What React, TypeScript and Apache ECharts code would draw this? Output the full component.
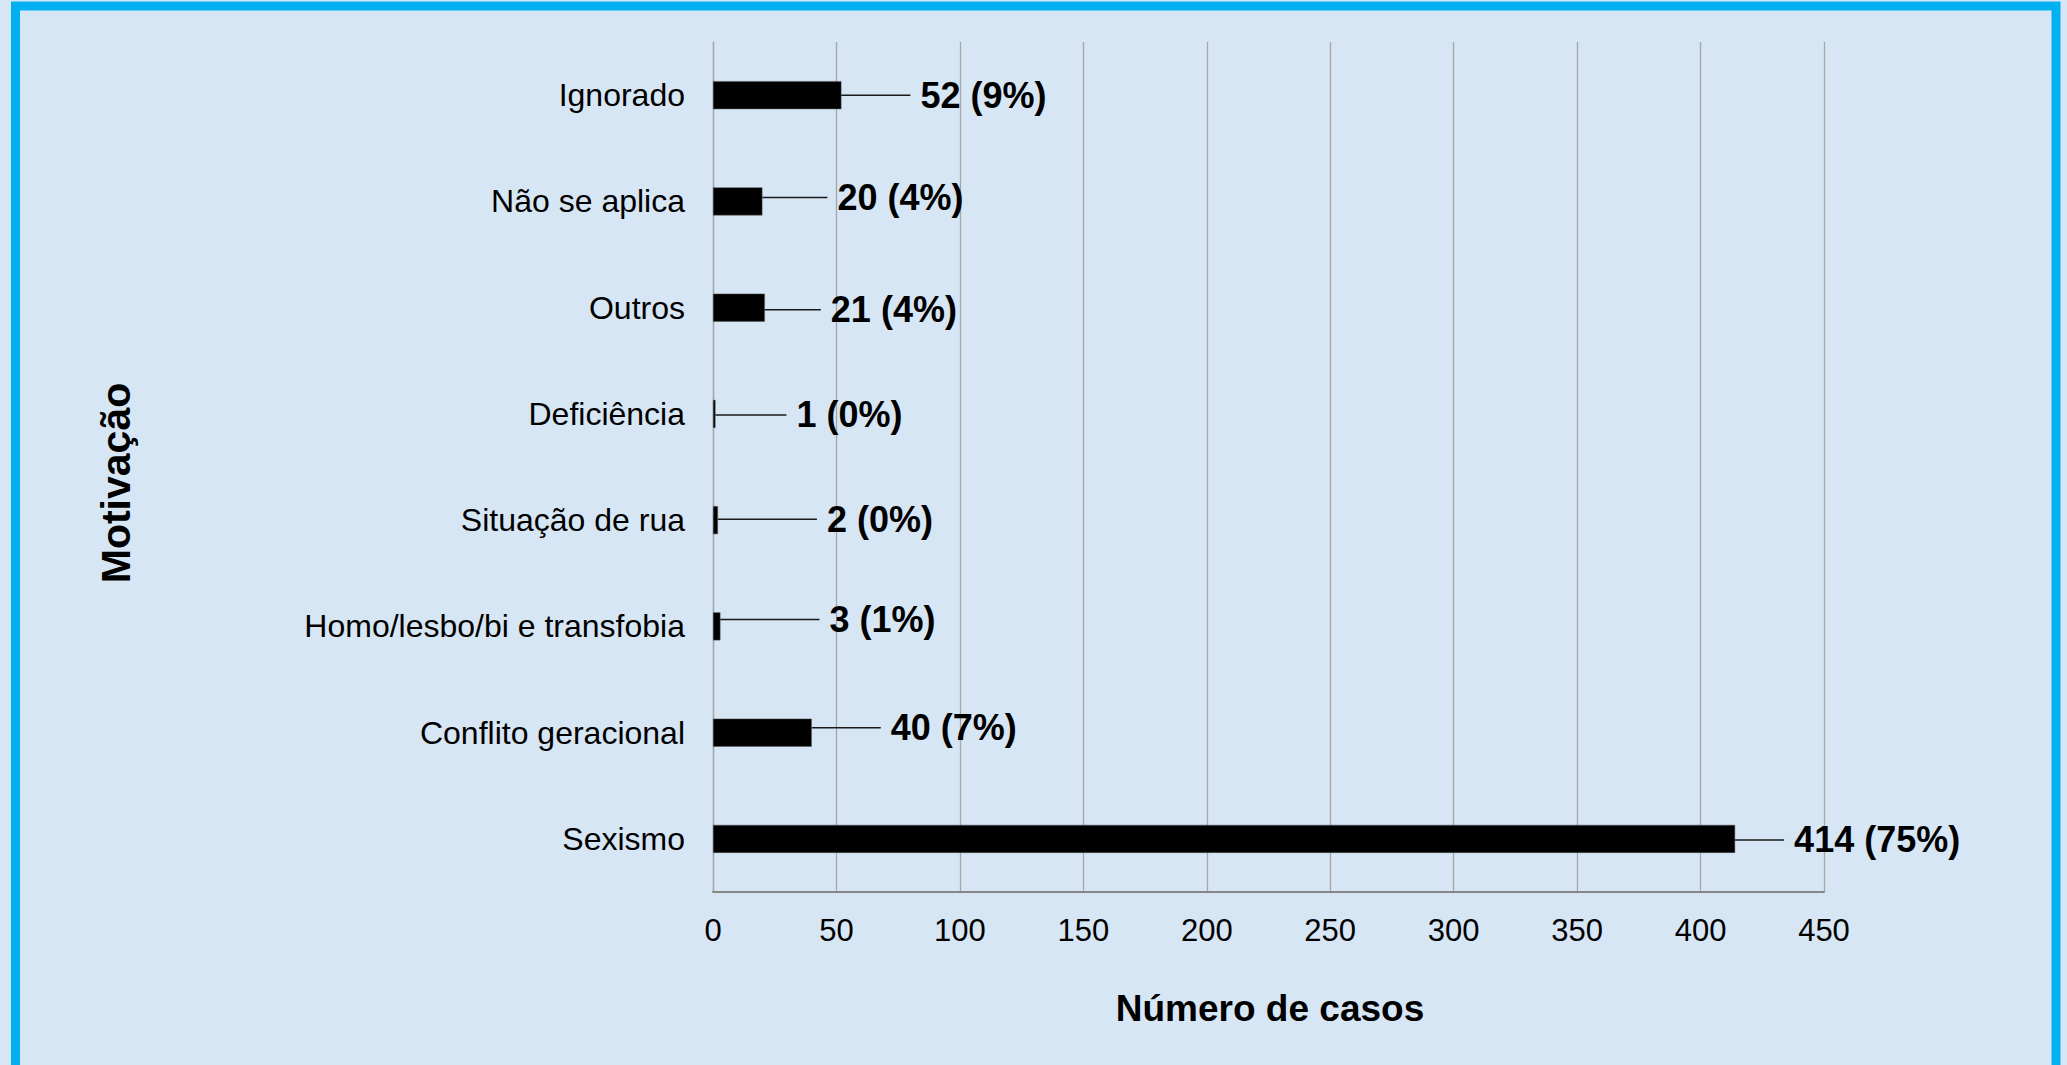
import React, { useEffect, useRef } from "react";
import * as echarts from "echarts";

const categories = [
  "Sexismo",
  "Conflito geracional",
  "Homo/lesbo/bi e transfobia",
  "Situação de rua",
  "Deficiência",
  "Outros",
  "Não se aplica",
  "Ignorado",
];
const cases = [414, 40, 3, 2, 1, 21, 20, 52];
const percents = [75, 7, 1, 0, 0, 4, 4, 9];
const xTicks = [0, 50, 100, 150, 200, 250, 300, 350, 400, 450];

// label nudges (dx, dy) in px, to mimic manually placed Excel labels
const labelNudges: [number, number][] = [
  [49, 1],
  [69, -5],
  [99, -7],
  [99, -1],
  [71, 1],
  [56, 2],
  [65, -4],
  [69, 0],
];

const FONT = "'Liberation Sans', Arial, Helvetica, sans-serif";

export default function App() {
  const ref = useRef<HTMLDivElement>(null);
  useEffect(() => {
    if (!ref.current) return;
    const chart = echarts.init(ref.current, undefined, { renderer: "svg" });
    chart.setOption({
      animation: false,
      backgroundColor: "#D7E6F4",
      textStyle: { fontFamily: FONT },
      grid: { left: 713, right: 243, top: 42, bottom: 173, containLabel: false },
      xAxis: {
        type: "value",
        min: xTicks[0],
        max: xTicks[xTicks.length - 1],
        interval: 50,
        axisLine: { show: true, lineStyle: { color: "#868686", width: 2 } },
        axisTick: { show: false },
        axisLabel: { color: "#000", fontSize: 31, margin: 23, fontFamily: FONT },
        splitLine: { show: true, lineStyle: { color: "#A6A6A6", width: 1.3 } },
      },
      yAxis: {
        type: "category",
        data: categories,
        axisLine: { show: true, lineStyle: { color: "#A6A6A6", width: 1.3 } },
        axisTick: { show: false },
        axisLabel: { color: "#000", fontSize: 32, margin: 28, fontFamily: FONT },
        splitLine: { show: false },
      },
      graphic: [
        {
          type: "rect",
          shape: { x: 15.5, y: 6, width: 2040.5, height: 1100 },
          style: { fill: "none", stroke: "#00B0F0", lineWidth: 9 },
          silent: true,
        },
        {
          type: "text",
          x: 1270,
          y: 1008,
          style: {
            text: "Número de casos",
            fontSize: 37,
            fontWeight: "bold",
            fontFamily: FONT,
            fill: "#000",
            textAlign: "center",
            textVerticalAlign: "middle",
          },
        },
        {
          type: "text",
          x: 116,
          y: 483,
          rotation: Math.PI / 2,
          style: {
            text: "Motivação",
            fontSize: 41,
            fontWeight: "bold",
            fontFamily: FONT,
            fill: "#000",
            textAlign: "center",
            textVerticalAlign: "middle",
          },
        },
      ],
      series: [
        {
          type: "bar",
          data: cases,
          barWidth: 28,
          itemStyle: { color: "#000", borderColor: "#595959", borderWidth: 0.5 },
          label: {
            show: true,
            position: "right",
            distance: 0,
            padding: [0, 0, 0, 10],
            backgroundColor: "rgba(0,0,0,0)",
            color: "#000",
            fontSize: 36,
            fontWeight: "bold",
            fontFamily: FONT,
            formatter: (p: any) => `${cases[p.dataIndex]} (${percents[p.dataIndex]}%)`,
          },
          labelLine: {
            show: true,
            length2: 10,
            lineStyle: { color: "#1a1a1a", width: 1.5 },
          },
          labelLayout: (p: any) => ({
            dx: labelNudges[p.dataIndex][0],
            dy: labelNudges[p.dataIndex][1],
          }),
        },
      ],
    });
    return () => chart.dispose();
  }, []);
  return (
    <div
      ref={ref}
      style={{ position: "fixed", left: 0, top: 0, width: 2067, height: 1065 }}
    />
  );
}
